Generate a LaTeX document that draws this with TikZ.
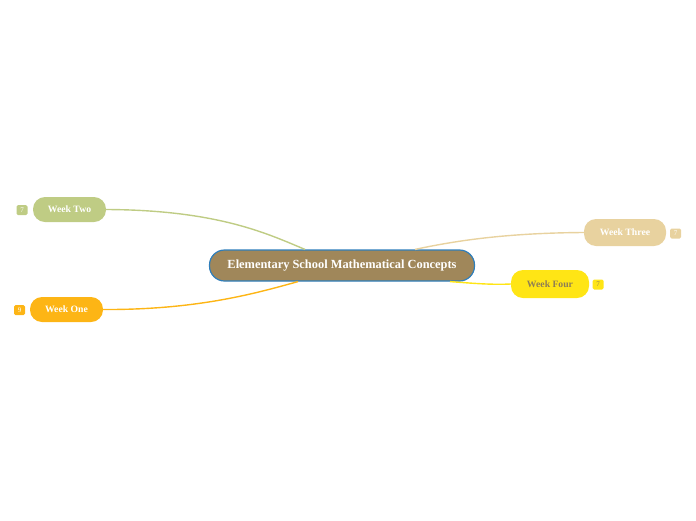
\documentclass[tikz,border=0pt]{standalone}
\usepackage{fontspec}
\setmainfont{Liberation Serif}
\definecolor{centerfill}{HTML}{A0875A}
\definecolor{centerdraw}{HTML}{2E7EBB}
\definecolor{wtwo}{HTML}{BFCC84}
\definecolor{wone}{HTML}{FDB515}
\definecolor{wthree}{HTML}{E8D29F}
\definecolor{wfour}{HTML}{FFE515}
\definecolor{fourtext}{HTML}{8E7E55}
\tikzset{
  week/.style={rounded corners=12pt, inner sep=0pt, text height=0.68em, text depth=0pt, font=\bfseries\fontsize{9.7}{10}\selectfont, text=white},
  badge/.style={rounded corners=1.5pt, inner sep=0pt, minimum width=11pt, minimum height=10pt, font=\fontsize{7}{7}\selectfont, text=white},
  conn/.style={line width=1.4pt}
}
\begin{document}
\begin{tikzpicture}[x=1pt,y=-1pt]
\useasboundingbox (0,0) rectangle (696,520);
\node[draw=centerdraw, line width=1.2pt, fill=centerfill, rounded corners=15pt, minimum width=265pt, minimum height=31pt, inner sep=0pt, text height=0.68em, text depth=0pt, text=white, font=\bfseries\fontsize{12.4}{13}\selectfont] (c) at (342,265.5) {Elementary School Mathematical Concepts};

\node[week, fill=wtwo, minimum width=73pt, minimum height=25pt] (two) at (69.5,209.5) {Week Two};
\node[badge, fill=wtwo] (b2) at (22,210) {7};

\node[week, fill=wone, minimum width=73pt, minimum height=25pt] (one) at (66.5,309.5) {Week One};
\node[badge, fill=wone] (b1) at (19.5,310) {9};

\node[week, fill=wthree, minimum width=82pt, minimum height=27pt] (three) at (625,232.5) {Week Three};
\node[badge, fill=wthree] (b3) at (675.5,233.5) {7};

\node[week, fill=wfour, text=fourtext, minimum width=78pt, minimum height=28pt] (four) at (550,284) {Week Four};
\node[badge, fill=wfour, text=fourtext] (b4) at (598,284.5) {7};

\draw[conn, draw=wtwo] (two.east) .. controls (220,210) and (270,235) .. ([xshift=-37pt]c.north);
\draw[conn, draw=wone] (one.east) .. controls (200,310) and (260,292) .. ([xshift=-44pt]c.south);
\draw[conn, draw=wthree] (three.west) .. controls (500,233) and (450,242) .. ([xshift=73pt]c.north);
\draw[conn, draw=wfour] (four.west) .. controls (490,285) and (470,283) .. ([xshift=108pt]c.south);
\end{tikzpicture}
\end{document}
